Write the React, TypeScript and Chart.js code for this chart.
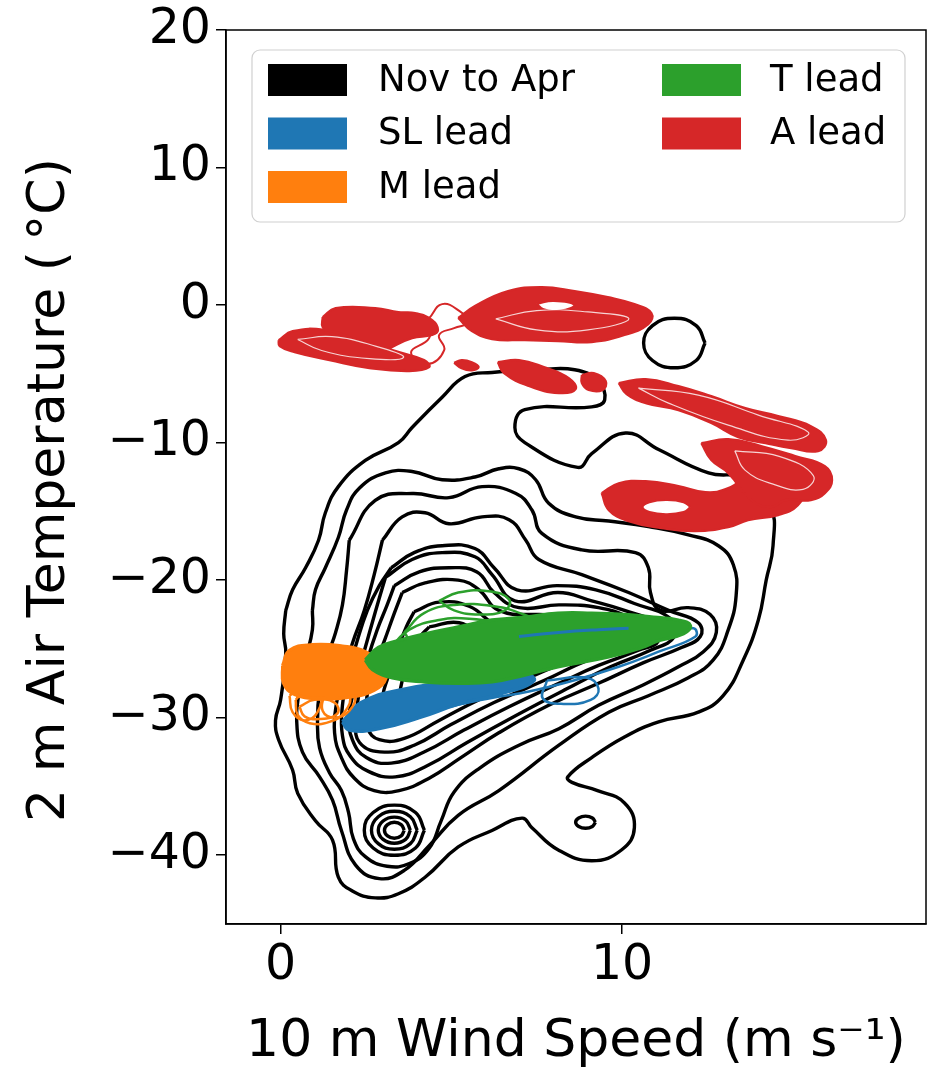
import React, { useEffect, useRef } from "react";
import { Chart, registerables } from "chart.js";
Chart.register(...registerables);

type Ring = [number, number][];

const FONT = "DejaVu Sans";
const xTicks = [0, 10];
const yTicks = [-40, -30, -20, -10, 0, 10, 20];
const xTitle = "10 m Wind Speed (m s\u207B\u00B9)";
const yTitle = "2 m Air Temperature (\u2009\u00B0C)\u2002";
const legendLabels = ["Nov to Apr", "SL lead", "M lead", "T lead", "A lead"];
const legendColors = ["#000000", "#1f77b4", "#ff7f0e", "#2ca02c", "#d62728"];

// Nov to Apr density contours (outer to inner)
const novAprContours: Ring[] = [
  [[0.15,-22.2],[0.35,-20.7],[0.73,-19.1],[1.11,-17.1],[1.31,-15.1],[1.69,-13.2],[2.48,-11.3],[3.45,-10.0],[3.85,-8.9],[4.73,-6.7],[5.4,-5.2],[6.19,-4.9],[7.56,-4.7],[8.61,-4.7],[9.28,-5.5],[9.49,-6.9],[9.11,-7.4],[7.15,-7.6],[6.86,-8.9],[7.15,-10.0],[8.7,-11.8],[9.11,-10.8],[10.1,-9.3],[11.07,-10.5],[12.53,-12.2],[13.61,-12.6],[14.34,-14.5],[14.42,-17.5],[14.22,-20.0],[13.99,-22.9],[13.55,-25.8],[12.96,-28.4],[12.23,-29.6],[11.07,-30.3],[10.07,-31.4],[9.11,-32.9],[8.41,-34.3],[8.53,-34.7],[9.28,-35.3],[10.07,-36.2],[10.36,-38.0],[9.99,-39.6],[9.11,-40.4],[8.12,-39.6],[7.36,-38.0],[7.07,-37.3],[6.19,-38.2],[5.2,-39.4],[4.23,-41.6],[3.45,-42.8],[2.77,-43.1],[2.1,-42.6],[1.69,-41.6],[1.52,-38.9],[1.02,-37.5],[0.5,-35.5],[0.35,-33.8],[-0.06,-31.6],[-0.15,-30.2],[0,-28.7],[0.15,-25.3],[0.09,-23.9]],
  [[0.93,-22.2],[1.02,-20.7],[1.31,-19.1],[1.69,-16.9],[1.93,-14.9],[2.31,-13.3],[3.07,-12.2],[3.85,-12.1],[4.73,-12.7],[5.69,-12.5],[6.39,-11.9],[6.98,-11.9],[7.47,-12.7],[7.85,-14.4],[8.64,-15.4],[9.61,-15.7],[10.77,-16.1],[11.94,-16.7],[12.82,-17.5],[13.26,-18.9],[13.34,-21.1],[13.11,-23.6],[12.67,-25.8],[11.94,-27.1],[10.77,-28.4],[9.61,-29.6],[8.15,-32.0],[6.39,-35.3],[5.2,-37.1],[4.35,-39.3],[3.62,-41.1],[2.89,-41.7],[2.19,-40.7],[1.78,-38.2],[1.52,-36.0],[1.14,-34.3],[0.64,-32.5],[0.47,-30.2],[0.55,-28.0],[0.73,-25.8],[0.93,-23.6]],
  [[2.01,-17.1],[2.77,-14.2],[3.85,-13.7],[4.93,-14.0],[5.9,-13.2],[6.89,-13.7],[7.36,-14.9],[7.65,-16.6],[8.82,-17.8],[10.39,-18.0],[10.77,-19.1],[10.83,-20.9],[11.12,-22.2],[11.94,-22.0],[12.58,-22.5],[12.76,-23.8],[12.38,-25.2],[11.65,-26.3],[10.63,-27.6],[9.31,-29.1],[8.15,-30.8],[6.98,-32.0],[5.81,-33.7],[5.08,-35.4],[4.7,-37.5],[4.35,-39.5],[3.77,-40.6],[3.12,-40.8],[2.48,-40.1],[2.13,-38.8],[1.99,-36.9],[1.78,-35.3],[1.43,-34.0],[1.14,-32.2],[1.08,-30.2],[1.14,-28.0],[1.34,-25.8],[1.61,-23.8],[1.81,-21.8],[1.93,-19.3]],
  [[2.98,-17.1],[3.56,-15.4],[4.23,-15.1],[4.93,-15.9],[5.9,-15.4],[6.69,-15.6],[7.18,-17.1],[7.56,-18.5],[8.82,-19.6],[10.19,-20.9],[11.36,-22.2],[12.23,-23.1],[12.29,-24.1],[11.74,-24.9],[10.63,-26.0],[9.31,-27.5],[7.85,-29.1],[6.39,-31.1],[5.28,-32.9],[4.35,-34.4],[3.47,-35.3],[2.74,-35.3],[2.16,-34.4],[1.78,-32.9],[1.58,-31.1],[1.64,-28.9],[1.84,-26.8],[2.1,-24.6],[2.45,-22.2],[2.74,-19.6]],
  [[3.24,-19.1],[3.91,-18.0],[4.73,-17.5],[5.69,-17.7],[6.25,-19.1],[6.92,-20.7],[8.09,-20.4],[9.23,-20.7],[10.36,-21.7],[11.42,-22.8],[11.53,-24.1],[10.83,-25.1],[9.66,-26.3],[8.38,-27.9],[6.92,-29.8],[5.46,-31.8],[4.29,-33.5],[3.36,-34.3],[2.57,-33.9],[2.04,-32.8],[1.81,-31.3],[1.81,-29.1],[1.96,-26.9],[2.22,-24.6],[2.54,-22.2],[2.89,-20.4]],
  [[3.07,-19.8],[3.85,-18.5],[4.73,-18.0],[5.69,-18.3],[6.19,-19.6],[6.86,-21.5],[8.12,-20.9],[9.11,-21.5],[10.07,-22.2],[10.92,-23.1],[11.07,-24.4],[10.48,-25.1],[9.31,-26.2],[8.15,-27.5],[6.69,-29.2],[5.37,-30.9],[4.2,-32.5],[3.24,-33.3],[2.51,-32.9],[2.1,-31.6],[2.01,-29.8],[2.16,-27.9],[2.39,-25.7],[2.66,-23.3],[2.89,-21.3]],
  [[3.33,-20.4],[4.06,-19.4],[4.93,-19.1],[5.75,-19.4],[6.25,-20.9],[6.98,-22.0],[8.15,-21.8],[9.31,-22.0],[10.19,-22.7],[10.72,-23.6],[10.19,-24.9],[9.02,-25.8],[7.71,-27.3],[6.25,-28.9],[4.99,-30.5],[3.91,-32.0],[3.04,-32.5],[2.31,-31.8],[2.22,-30.0],[2.31,-28.0],[2.54,-25.8],[2.83,-23.6],[3.12,-21.8]],
  [[3.56,-20.9],[4.23,-20.2],[5.2,-20.0],[5.81,-20.7],[6.39,-22.2],[7.56,-22.5],[8.73,-22.5],[9.75,-23.1],[10.34,-23.9],[9.84,-24.8],[8.73,-25.6],[7.27,-27.1],[5.81,-28.7],[4.64,-30.2],[3.62,-31.5],[2.89,-31.6],[2.54,-30.7],[2.51,-28.9],[2.69,-26.7],[3.04,-24.4],[3.33,-22.4]],
  [[3.91,-22.3],[4.64,-21.6],[5.52,-21.9],[6.39,-23.3],[7.85,-23.5],[9.31,-23.8],[9.66,-24.2],[9.02,-24.8],[7.56,-25.9],[6.1,-27.3],[4.79,-28.8],[3.77,-29.9],[3.18,-30.2],[2.98,-28.9],[3.15,-27.0],[3.45,-24.9],[3.68,-23.4]],
  [[4.35,-23.4],[5.23,-23.1],[6.1,-24.2],[7.56,-24.5],[8.73,-24.6],[8.15,-25.2],[6.69,-26.3],[5.23,-27.7],[4.06,-28.8],[3.56,-28.7],[3.56,-27.3],[3.82,-25.5],[4.06,-24.2]],
];

// Nov to Apr small closed contours (secondary peak rings, isolated islands)
const novAprIslands: Ring[] = [
  [[3.62,-38.18],[3.53,-38.59],[3.33,-38.76],[3.13,-38.59],[3.04,-38.18],[3.13,-37.77],[3.33,-37.6],[3.53,-37.77]],
  [[3.8,-38.18],[3.66,-38.85],[3.33,-39.13],[3.0,-38.85],[2.86,-38.18],[3.0,-37.51],[3.33,-37.23],[3.66,-37.51]],
  [[4.0,-38.18],[3.8,-39.16],[3.33,-39.56],[2.86,-39.16],[2.66,-38.18],[2.86,-37.2],[3.33,-36.8],[3.8,-37.2]],
  [[4.21,-38.18],[3.95,-39.47],[3.33,-40.0],[2.71,-39.47],[2.45,-38.18],[2.71,-36.89],[3.33,-36.36],[3.95,-36.89]],
  [[12.43,-2.76],[12.17,-4.03],[11.53,-4.56],[10.89,-4.03],[10.63,-2.76],[10.89,-1.49],[11.53,-0.96],[12.17,-1.49]],
  [[9.22,-37.6],[9.13,-37.91],[8.93,-38.04],[8.73,-37.91],[8.64,-37.6],[8.73,-37.29],[8.93,-37.16],[9.13,-37.29]],
];

// SL lead
const slLeadFilled: Ring[] = [
  [[1.81,-30.3],[2.36,-28.9],[3.47,-28.0],[5.23,-27.3],[6.98,-26.7],[7.42,-27.3],[6.39,-28.3],[5.23,-29.0],[4.06,-30.0],[2.89,-30.8],[2.01,-30.9]],
];
const slLeadLines: Ring[] = [
  [[2.01,-30.3],[2.89,-28.7],[4.93,-27.5],[6.98,-26.6],[8.73,-25.8],[10.19,-24.7],[11.21,-23.9],[12.09,-23.5],[12.15,-24.1],[11.07,-25.2],[9.9,-26.3],[8.58,-27.3],[7.27,-28.1],[6.1,-28.6],[4.64,-29.4],[3.47,-30.3],[2.6,-30.8],[2.07,-30.8]],
  [[7.8,-27.3],[7.68,-28.6],[8.29,-29.0],[9.08,-28.7],[9.31,-27.9],[8.96,-27.1]],
];
const slLeadStreaks: Ring[] = [
  [[6.98,-24.1],[8.15,-23.8],[9.31,-23.6],[10.19,-23.5]],
];

// M lead
const mLeadFilled: Ring[] = [
  [[0.06,-26.2],[0.26,-25.1],[0.93,-24.7],[1.81,-24.8],[2.48,-25.2],[2.98,-26.2],[3.09,-27.1],[2.74,-28.0],[2.01,-28.5],[1.14,-28.6],[0.41,-28.3],[0.09,-27.5]],
];
const mLeadLines: Ring[] = [
  [[0.44,-28.7],[0.70,-28.1],[1.43,-28.0],[2.01,-28.4],[1.87,-29.6],[1.43,-30.3],[0.85,-30.4],[0.5,-29.8]],
  [[0.55,-29.2],[0.99,-28.7],[1.58,-28.9],[1.66,-29.7],[1.14,-30.1],[0.70,-29.9]],
  [[0.26,-28.4],[0.55,-28.0],[1.14,-28.2],[1.08,-29.6],[0.7,-30.2],[0.35,-29.6]],
  [[1.28,-28.2],[1.72,-28.1],[2.16,-28.4],[2.01,-29.5],[1.58,-30.0],[1.23,-29.5]],
];

// T lead
const tLeadFilled: Ring[] = [
  [[2.48,-25.8],[2.86,-24.9],[3.45,-24.4],[4.23,-23.9],[5.2,-23.4],[6.19,-22.9],[7.15,-22.7],[8.12,-22.4],[9.11,-22.4],[10.07,-22.5],[10.92,-22.7],[11.65,-22.9],[12.0,-23.3],[11.8,-23.9],[11.07,-24.4],[10.57,-24.9],[9.58,-25.6],[8.12,-26.3],[7.15,-26.9],[6.19,-27.4],[5.2,-27.5],[4.23,-27.4],[3.27,-27.1],[2.69,-26.5]],
];
const tLeadLines: Ring[] = [
  [[4.64,-21.5],[5.2,-20.9],[6.1,-20.8],[6.69,-21.4],[6.57,-22.2],[5.81,-22.5],[5.08,-22.2]],
  [[3.62,-23.8],[4.2,-22.4],[5.08,-21.8],[6.25,-21.9],[7.12,-22.5],[7.71,-23.3],[6.54,-23.6],[5.08,-23.9],[3.91,-24.6]],
  [[3.18,-25.0],[3.77,-23.6],[4.64,-22.9],[5.52,-22.8],[6.39,-23.2],[5.52,-23.6],[4.35,-24.1]],
];

// A lead
const aLeadFilled: Ring[] = [
  [[-0.06,-2.55],[0.35,-1.89],[1.31,-1.82],[2.31,-2.55],[3.47,-3.42],[4.2,-4.0],[4.35,-4.51],[3.77,-4.8],[2.6,-4.58],[1.43,-4.0],[0.41,-3.42],[-0.03,-2.98]],
  [[1.23,-0.87],[1.61,-0.22],[2.77,-0.22],[3.45,-0.51],[3.94,-0.58],[4.44,-1.09],[4.61,-1.82],[4.44,-2.18],[3.85,-2.4],[3.27,-3.05],[2.77,-3.78],[2.28,-3.49],[1.52,-2.33],[1.23,-1.6]],
  [[5.2,-0.94],[5.69,-0.07],[6.66,1.02],[7.65,1.31],[8.61,1.02],[9.58,0.58],[10.36,0.07],[10.86,-0.58],[10.77,-1.38],[10.07,-2.18],[9.11,-2.69],[8.12,-2.62],[7.15,-2.55],[6.19,-2.47],[5.6,-1.89]],
  [[5.08,-4.2],[5.3,-4.0],[5.6,-4.15],[5.8,-4.5],[5.6,-4.75],[5.3,-4.6]],
  [[6.36,-4.15],[6.98,-4.0],[7.71,-4.51],[8.44,-5.31],[8.64,-6.11],[8.15,-6.4],[7.27,-5.89],[6.54,-4.95]],
  [[8.82,-5.09],[9.17,-4.95],[9.52,-5.53],[9.43,-6.18],[9.02,-6.18],[8.82,-5.67]],
  [[9.9,-5.67],[10.69,-5.38],[11.65,-5.89],[12.61,-6.62],[13.61,-7.49],[14.57,-8.07],[15.53,-8.8],[15.97,-9.82],[15.74,-10.62],[14.95,-10.4],[14.2,-10.04],[13.4,-9.6],[12.61,-8.58],[11.65,-7.64],[10.69,-7.13],[10.13,-6.47]],
  [[12.32,-10.04],[13.11,-9.75],[14.07,-10.25],[15.07,-10.98],[15.94,-11.71],[16.15,-12.73],[15.94,-13.67],[15.53,-14.18],[14.77,-14.18],[14.36,-14.69],[13.78,-14.18],[13.11,-12.22],[12.61,-11.27]],
  [[9.4,-13.67],[9.9,-12.95],[10.69,-12.8],[11.65,-13.16],[12.44,-13.6],[13.11,-13.31],[13.99,-12.0],[14.86,-12.36],[15.3,-13.45],[15.15,-14.55],[14.57,-15.27],[13.69,-15.64],[13.11,-16.15],[12.15,-16.44],[11.15,-16.22],[10.19,-15.71],[9.61,-14.91]],
];
const aLeadOutlines: Ring[] = [
  [[4.35,-0.95],[4.73,0.07],[5.28,-0.51],[5.52,-1.24],[5.08,-1.67],[4.64,-2.18],[4.79,-3.27],[4.29,-4.29],[3.82,-3.42],[4.35,-2.4]],
];
const aLeadHoles: Ring[] = [
  [[12.0,-14.69],[11.8,-15.05],[11.3,-15.2],[10.8,-15.05],[10.6,-14.69],[10.8,-14.33],[11.3,-14.18],[11.8,-14.33]],
  [[7.5,0.1],[8.0,0.3],[8.6,0.0],[8.2,-0.4],[7.7,-0.3]],
];
const aLeadGaps: Ring[] = [
  [[10.48,-6.04],[12.23,-6.55],[13.99,-8.0],[15.45,-9.24],[14.86,-9.82],[13.11,-8.73],[11.36,-7.13]],
  [[0.5,-2.5],[1.5,-2.3],[2.8,-3.0],[3.6,-3.8],[2.6,-3.9],[1.2,-3.3]],
  [[6.3,-1.0],[7.5,-0.4],[9.0,-0.5],[10.2,-1.0],[9.0,-1.8],[7.5,-1.8]],
  [[13.3,-10.6],[14.6,-11.0],[15.6,-12.4],[15.3,-13.4],[14.4,-13.0],[13.6,-12.0]],
];

function ringData(r: Ring, close = true) {
  const pts = r.map(([x, y]) => ({ x, y }));
  if (close && r.length > 2) pts.push({ x: r[0][0], y: r[0][1] });
  return pts;
}

function makeSet(r: Ring, color: string, opts: { fill?: boolean; width?: number; order: number; close?: boolean; fillColor?: string }) {
  return {
    data: ringData(r, opts.close !== false),
    showLine: true,
    borderColor: color,
    backgroundColor: opts.fillColor ?? color,
    fill: opts.fill ? "shape" : false,
    borderWidth: opts.width ?? 3.4,
    pointRadius: 0,
    pointHoverRadius: 0,
    tension: 0.45,
    order: opts.order,
  };
}

const fmt = (v: number) => (v < 0 ? "\u2212" + Math.abs(v) : String(v));

const frame = {
  id: "frame",
  afterDatasetsDraw(chart: any) {
    const { ctx, chartArea: a } = chart;
    ctx.save();
    ctx.strokeStyle = "#000";
    ctx.lineWidth = 1.5;
    ctx.strokeRect(a.left, a.top, a.right - a.left, a.bottom - a.top);
    ctx.restore();
  },
};

const legendBox = {
  id: "legendBox",
  afterDraw(chart: any) {
    const { ctx, chartArea: a } = chart;
    const bx = a.left + 26, by = a.top + 20, bw = 653, bh = 172;
    ctx.save();
    ctx.beginPath();
    ctx.roundRect(bx, by, bw, bh, 8);
    ctx.fillStyle = "rgba(255,255,255,0.85)";
    ctx.fill();
    ctx.strokeStyle = "#d0d0d0";
    ctx.lineWidth = 1.2;
    ctx.stroke();
    ctx.font = `37px "${FONT}"`;
    ctx.textBaseline = "middle";
    const rows = Math.ceil(legendLabels.length / 2);
    legendLabels.forEach((lab, i) => {
      const col = Math.floor(i / rows), row = i % rows;
      const px = bx + (col === 0 ? 16 : 410);
      const tx = bx + (col === 0 ? 126 : 518);
      const cy = by + 30 + row * 53.5;
      ctx.fillStyle = legendColors[i];
      ctx.fillRect(px, cy - 16, 79, 32);
      ctx.fillStyle = "#000";
      ctx.fillText(lab, tx, cy + 1);
    });
    ctx.restore();
  },
};

export default function App() {
  const ref = useRef<HTMLCanvasElement>(null);
  useEffect(() => {
    if (!ref.current) return;
    const datasets: any[] = [];
    novAprContours.forEach((r) => datasets.push(makeSet(r, "#000000", { order: 10 })));
    novAprIslands.forEach((r) => datasets.push(makeSet(r, "#000000", { order: 10 })));
    slLeadFilled.forEach((r) => datasets.push(makeSet(r, legendColors[1], { fill: true, order: 8 })));
    slLeadLines.forEach((r) => datasets.push(makeSet(r, legendColors[1], { width: 2.5, order: 8 })));
    mLeadFilled.forEach((r) => datasets.push(makeSet(r, legendColors[2], { fill: true, order: 7 })));
    mLeadLines.forEach((r) => datasets.push(makeSet(r, legendColors[2], { width: 2.5, order: 7 })));
    tLeadFilled.forEach((r) => datasets.push(makeSet(r, legendColors[3], { fill: true, order: 6 })));
    tLeadLines.forEach((r) => datasets.push(makeSet(r, legendColors[3], { width: 2.5, order: 6 })));
    slLeadStreaks.forEach((r) => datasets.push(makeSet(r, legendColors[1], { width: 3, order: 5, close: false })));
    aLeadFilled.forEach((r) => datasets.push(makeSet(r, legendColors[4], { fill: true, width: 2.2, order: 4 })));
    aLeadOutlines.forEach((r) => datasets.push(makeSet(r, legendColors[4], { width: 2, order: 4 })));
    aLeadHoles.forEach((r) => datasets.push(makeSet(r, legendColors[4], { fill: true, width: 2, order: 3, fillColor: "#ffffff" })));
    aLeadGaps.forEach((r) => datasets.push(makeSet(r, "rgba(255,255,255,0.8)", { width: 1.2, order: 2 })));

    const chart = new Chart(ref.current, {
      type: "scatter",
      data: { datasets },
      plugins: [frame, legendBox],
      options: {
        animation: false,
        responsive: false,
        events: [],
        layout: { padding: { left: 0, right: 1, top: 30, bottom: 0 } },
        plugins: { legend: { display: false }, tooltip: { enabled: false } },
        scales: {
          x: {
            type: "linear",
            min: -1.6,
            max: 18.9,
            afterBuildTicks: (s: any) => { s.ticks = xTicks.map((v) => ({ value: v })); },
            afterFit: (s: any) => { s.height = 154; },
            grid: { display: true, drawOnChartArea: false, drawTicks: true, tickLength: 10, color: "#000", lineWidth: 1.5 },
            border: { display: true, color: "#000", width: 1.5 },
            ticks: { color: "#000", font: { family: FONT, size: 49, lineHeight: 1.0 }, padding: 8, maxRotation: 0, autoSkip: false, callback: (v: any) => fmt(Number(v)) },
            title: { display: true, text: xTitle, color: "#000", font: { family: FONT, size: 52 }, padding: { top: 0, bottom: 4 } },
          },
          y: {
            type: "linear",
            min: -45,
            max: 20,
            afterBuildTicks: (s: any) => { s.ticks = yTicks.map((v) => ({ value: v })); },
            afterFit: (s: any) => { s.width = 226; },
            grid: { display: true, drawOnChartArea: false, drawTicks: true, tickLength: 10, color: "#000", lineWidth: 1.5 },
            border: { display: true, color: "#000", width: 1.5 },
            ticks: { color: "#000", font: { family: FONT, size: 49, lineHeight: 1.0 }, padding: 5, autoSkip: false, callback: (v: any) => fmt(Number(v)) },
            title: { display: true, text: yTitle, color: "#000", font: { family: FONT, size: 52 }, padding: { top: 19, bottom: 0 } },
          },
        },
      } as any,
    });
    return () => chart.destroy();
  }, []);
  return (
    <div style={{ position: "absolute", left: 0, top: 0, width: 927, height: 1078, background: "#fff" }}>
      <canvas ref={ref} width={927} height={1078} style={{ width: 927, height: 1078, display: "block" }} />
    </div>
  );
}
